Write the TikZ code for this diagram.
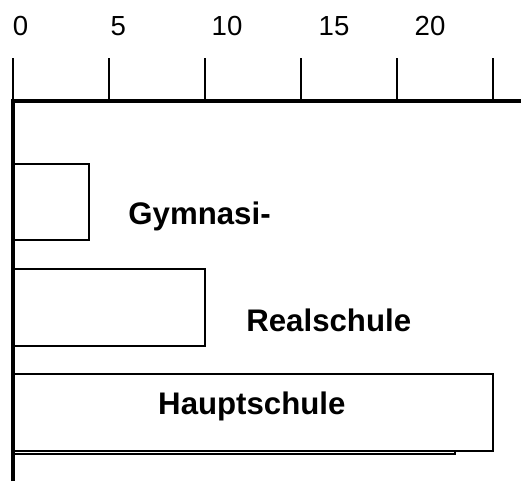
\documentclass[tikz,border=0pt]{standalone}
\usepackage{fontspec}
\setmainfont{Liberation Sans}
\usetikzlibrary{positioning}

\begin{document}
\begin{tikzpicture}[x=14.4pt,y=0.75pt,
  graduation/.style={line width=1pt},
  chiffre/.style={font=\fontsize{20.7}{24}\selectfont,inner sep=0pt},
  barre/.style={draw,line width=1.4pt,fill=white},
  ecole/.style={font=\fontsize{23.4}{28}\selectfont\bfseries,inner sep=0pt,anchor=base west}]
\useasboundingbox (-0.677,0) rectangle (26.458,481);

%les barres
\draw[barre] (0,27) rectangle (23,104);%derriere
\draw[barre] (0,30) rectangle (25,107);
\draw[barre] (0,135) rectangle (10,212);
\draw[barre] (0,241) rectangle (3.96,317);

%les axes
\draw[line width=2.3pt,line join=miter] (0,0) -- (0,380) -- (26.5,380);

%les graduations
\draw[graduation] (0,382) -- (0,423);
\draw[graduation] (5,382) -- (5,423);
\draw[graduation] (10,382) -- (10,423);
\draw[graduation] (15,382) -- (15,423);
\draw[graduation] (20,382) -- (20,423);
\draw[graduation] (25,382) -- (25,423);

\node[chiffre] (n0) at (0.39,454.5) {0};
\node[chiffre] (n5) at (5.49,454.5) {5};
\node[chiffre] (n10) at (11.15,454.5) {10};
\node[chiffre] (n15) at (16.72,454.5) {15};
\node[chiffre] (n20) at (21.72,454.5) {20};

%les noms
\node[ecole] (gym) at (6,256) {Gymnasi-};
\node[ecole] (real) at (12.14,150) {Realschule};
\node[ecole] (haupt) at (7.55,67) {Hauptschule};

\end{tikzpicture}
\end{document}
